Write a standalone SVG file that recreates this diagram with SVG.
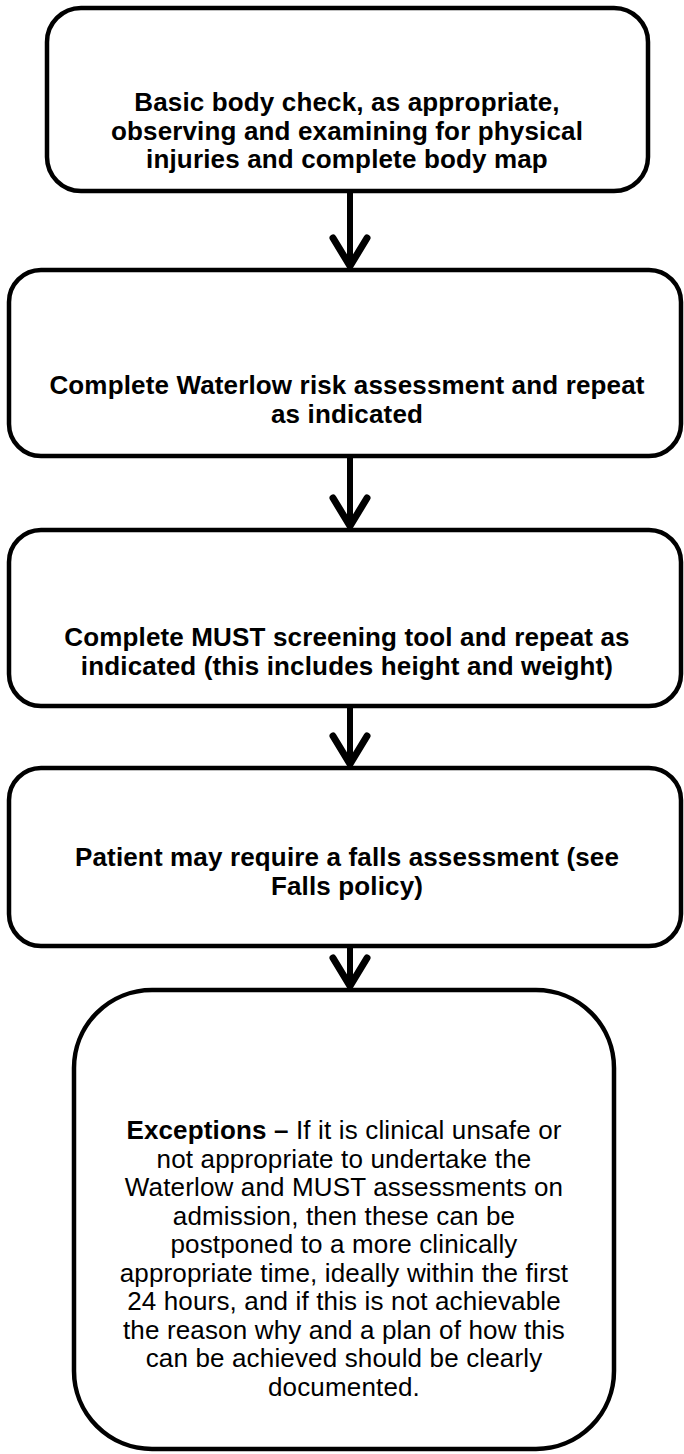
<svg xmlns="http://www.w3.org/2000/svg" width="684" height="1454" viewBox="0 0 684 1454">
  <defs>
    <style>
      .box { fill: #ffffff; stroke: #000000; stroke-width: 4.5; }
      .lbl { font-family: "Liberation Sans", Arial, sans-serif; font-size: 26px; letter-spacing: 0.15px; fill: #000000; text-anchor: middle; }
      .b { font-weight: bold; }
      .link { stroke: #000000; stroke-width: 6; fill: none; }
      .head { stroke: #000000; stroke-width: 7; fill: none; stroke-linecap: round; stroke-linejoin: miter; }
    </style>
  </defs>
  <rect width="684" height="1454" fill="#ffffff"/>

  <!-- connectors -->
  <g id="connectors">
    <line class="link" x1="350" y1="191" x2="350" y2="266"/>
    <polyline class="head" points="333,238 350,266 367,238"/>
    <line class="link" x1="350" y1="456" x2="350" y2="526"/>
    <polyline class="head" points="333,498 350,526 367,498"/>
    <line class="link" x1="350" y1="706" x2="350" y2="764"/>
    <polyline class="head" points="333,736 350,764 367,736"/>
    <line class="link" x1="350" y1="946" x2="350" y2="986"/>
    <polyline class="head" points="333,958 350,986 367,958"/>
  </g>

  <g id="body-check">
    <rect class="box" x="47" y="8" width="601" height="183" rx="34"/>
    <text class="lbl b" x="347" y="111">Basic body check, as appropriate,</text>
    <text class="lbl b" x="347" y="139.5">observing and examining for physical</text>
    <text class="lbl b" x="347" y="168">injuries and complete body map</text>
  </g>

  <g id="waterlow">
    <rect class="box" x="9" y="270" width="672" height="186" rx="32"/>
    <text class="lbl b" x="347" y="394">Complete Waterlow risk assessment and repeat</text>
    <text class="lbl b" x="347" y="423">as indicated</text>
  </g>

  <g id="must">
    <rect class="box" x="9" y="530" width="672" height="176" rx="32"/>
    <text class="lbl b" x="347" y="646">Complete MUST screening tool and repeat as</text>
    <text class="lbl b" x="347" y="675">indicated (this includes height and weight)</text>
  </g>

  <g id="falls">
    <rect class="box" x="9" y="768" width="672" height="178" rx="32"/>
    <text class="lbl b" x="347" y="866">Patient may require a falls assessment (see</text>
    <text class="lbl b" x="347" y="895">Falls policy)</text>
  </g>

  <g id="exceptions">
    <rect class="box" x="74" y="990" width="540" height="459" rx="78"/>
    <text class="lbl" x="344" y="1139"><tspan class="b">Exceptions –</tspan> If it is clinical unsafe or</text>
    <text class="lbl" x="344" y="1167.5">not appropriate to undertake the</text>
    <text class="lbl" x="344" y="1196">Waterlow and MUST assessments on</text>
    <text class="lbl" x="344" y="1224.5">admission, then these can be</text>
    <text class="lbl" x="344" y="1253">postponed to a more clinically</text>
    <text class="lbl" x="344" y="1281.5">appropriate time, ideally within the first</text>
    <text class="lbl" x="344" y="1310">24 hours, and if this is not achievable</text>
    <text class="lbl" x="344" y="1338.5">the reason why and a plan of how this</text>
    <text class="lbl" x="344" y="1367">can be achieved should be clearly</text>
    <text class="lbl" x="344" y="1395.5">documented.</text>
  </g>
</svg>
